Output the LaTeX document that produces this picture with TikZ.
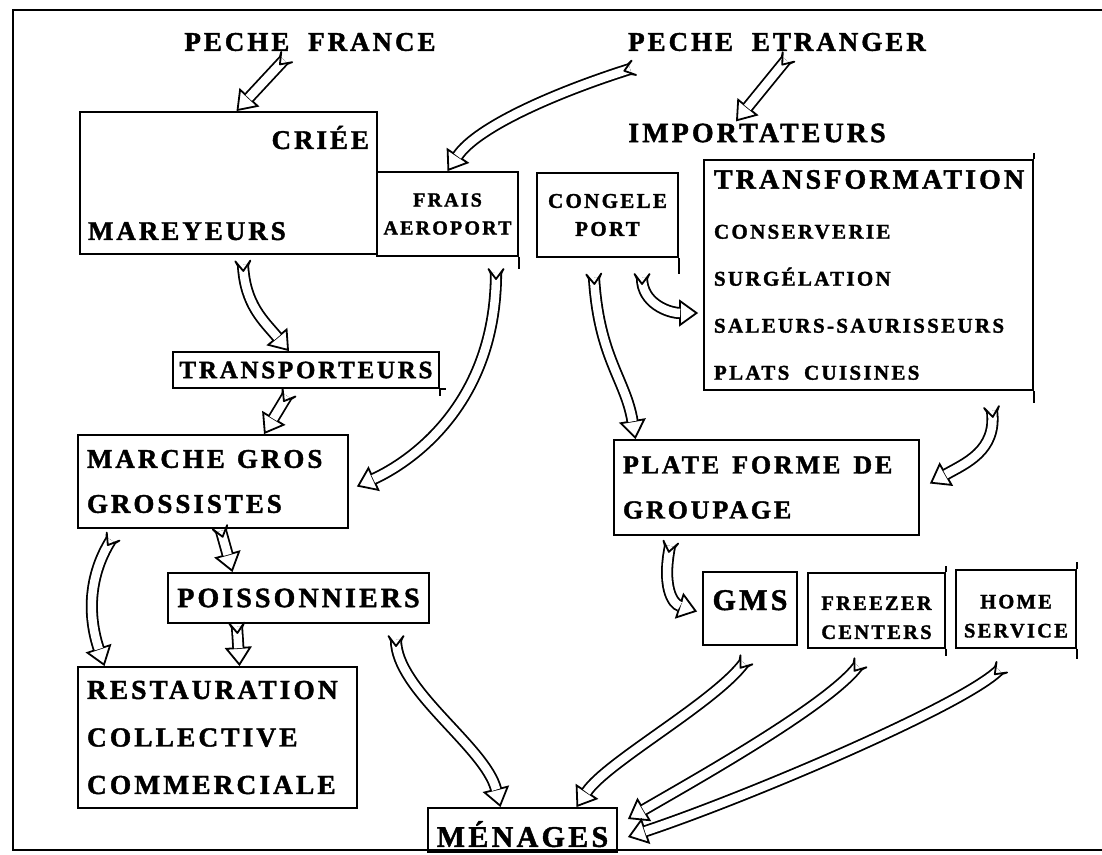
\documentclass[tikz,border=0pt]{standalone}
\usepackage{fontspec}
\setmainfont{Liberation Serif Bold}[LetterSpace=11, FakeBold=1.5]
\usetikzlibrary{arrows.meta,calc,decorations.markings}

\newcommand\fsz[2]{\fontsize{#1pt}{#2pt}\selectfont}
\newcommand\gap{\hspace{0.7em}}
% hollow flow arrow: head path first, then the double shaft, then the forked tail
\newcommand\flow[3][]{%
  \draw[flowhead,#1] #2 #3;
  \draw[flowbody,#1] #2 #3;
  \path[flowtail] #2 #3;}

\tikzset{
  boxline/.style={line width=1.8pt},
  box/.style={draw, boxline, inner sep=0pt},
  fs/.style 2 args={font=\fsz{#1}{#2}},
  lbl/.style={inner sep=0pt},
  flowhead/.style={line width=1.8pt,
    -{Triangle[open, fill=white, length=19pt, width=27pt, line width=1.8pt]}},
  flowbody/.style={line width=1.8pt, double=white, double distance=8.5pt, shorten >=18pt},
  flowtail/.style={postaction={decorate, decoration={markings,
    mark=at position 0 with {\draw[line width=1.8pt, line join=round]
      (0.5,5.15) -- (-4,7.5) -- (6,0) -- (-4,-7.5) -- (0.5,-5.15);}}}},
}

\begin{document}
\begin{tikzpicture}[x=1pt, y=-1pt]
  \useasboundingbox (0,0) rectangle (1102,854);
  \draw[line width=2.2pt] (1102,10) -- (13,10) -- (13,850) -- (1102,850);

  % sources
  \node[lbl, fs={27}{32}] (pf) at (310,42) {PECHE\gap FRANCE};
  \node[lbl, fs={27}{32}] (pe) at (777,42) {PECHE\gap ETRANGER};
  \node[lbl, fs={28}{34}] (imp) at (757,133) {IMPORTATEURS};

  % boxes
  \node[box, fs={27}{91}, minimum width=297pt, minimum height=142pt,
        text width=281pt, align=left] (criee) at (228.5,183)
        {\mbox{}\hfill CRIÉE\\MAREYEURS};
  \node[box, fs={20}{28}, minimum width=141pt, minimum height=84pt,
        align=center] (frais) at (447.5,214) {FRAIS\\AEROPORT};
  \node[box, fs={21}{28}, minimum width=141pt, minimum height=84pt,
        align=center] (congele) at (607.5,215) {CONGELE\\PORT};
  \node[box, fs={21}{47}, minimum width=329pt, minimum height=230pt,
        text width=309pt, align=left] (transf) at (868.5,275)
        {{\fsz{28}{47}TRANSFORMATION}\\[3pt]CONSERVERIE\\SURGÉLATION\\
         SALEURS-SAURISSEURS\\PLATS\gap CUISINES};
  \node[box, fs={25}{30}, minimum width=266pt, minimum height=36pt]
        (transp) at (306,370) {TRANSPORTEURS};
  \node[box, fs={27}{45}, minimum width=270pt, minimum height=93pt,
        text width=252pt, align=left] (marche) at (213,481.5)
        {MARCHE\hspace{0.45em}GROS\\GROSSISTES};
  \node[box, fs={26}{45}, minimum width=305pt, minimum height=95pt,
        text width=287pt, align=left] (plate) at (766.5,487.5)
        {PLATE\hspace{0.5em}FORME\hspace{0.5em}DE\\GROUPAGE};
  \node[box, fs={28}{35}, minimum width=261pt, minimum height=50pt]
        (poiss) at (298.5,598) {POISSONNIERS};
  \node[box, fs={27.5}{47.5}, minimum width=279pt, minimum height=141pt,
        text width=261pt, align=left] (rest) at (217.5,737.5)
        {RESTAURATION\\COLLECTIVE\\COMMERCIALE};
  \node[box, fs={30}{35}, minimum width=94pt, minimum height=73pt]
        (gms) at (750,608.5) {\rule[-17pt]{0pt}{37pt}GMS};
  \node[box, fs={20.5}{29}, minimum width=137pt, minimum height=75pt,
        align=center] (freezer) at (876.5,610.5) {\rule{0pt}{28pt}FREEZER\\CENTERS};
  \node[box, fs={20.5}{29}, minimum width=120pt, minimum height=78pt,
        align=center] (home) at (1016,609) {\rule{0pt}{28pt}HOME\\SERVICE};
  \node[box, fs={30}{36}, minimum width=189pt, minimum height=44pt]
        (men) at (522.5,830) {\rule{0pt}{34pt}MÉNAGES};

  % overshooting strokes
  \draw[boxline] (frais.south east) -- ++(0,12);
  \draw[boxline] (congele.south east) -- ++(0,16);
  \draw[boxline] (transf.north east) -- ++(0,-6) (transf.south east) -- ++(0,12);
  \draw[boxline] (transp.south east) -- ++(6,0) (transp.south east) -- ++(0,7);
  \draw[boxline] (freezer.north east) -- ++(0,-6) (freezer.south east) -- ++(0,7);
  \draw[boxline] (home.north east) -- ++(0,-7) (home.south east) -- ++(0,10);

  % tails
  \coordinate (t-pf) at (284,60);
  \coordinate (t-pe1) at (630,69);
  \coordinate (t-pe2) at (786,60);
  \coordinate (t-criee) at (243,265);
  \coordinate (t-frais) at (496,273);
  \coordinate (t-transp) at (287,396);
  \coordinate (t-marche1) at (221,531);
  \coordinate (t-marche2) at (111,540);
  \coordinate (t-poiss1) at (237,627);
  \coordinate (t-poiss2) at (396,640);
  \coordinate (t-congele1) at (594,278);
  \coordinate (t-congele2) at (642,278);
  \coordinate (t-transf) at (992,411);
  \coordinate (t-plate) at (670,546);
  \coordinate (t-gms) at (744,663);
  \coordinate (t-freezer) at (858,666);
  \coordinate (t-home) at (999,670);

  % flows
  \flow{(t-pf)}{-- ($(criee.north)+(8,0)$)}
  \flow{(t-pe1)}{.. controls +(-70,22) and +(30,-45) .. (frais.north)}
  \flow{(t-pe2)}{-- ($(imp.north)+(-21,-2)$)}
  \flow{(t-criee)}{.. controls +(2,40) and +(-25,-30) .. ($(transp.north)+(-17,0)$)}
  \flow{(t-frais)}{.. controls +(0,130) and +(55,-25) .. ($(marche.east)+(8,5)$)}
  \flow{(t-transp)}{-- ($(marche.north)+(51,0)$)}
  \flow{(t-marche1)}{-- ($(poiss.north)+(-66,0)$)}
  \flow{(t-marche2)}{.. controls +(-25,40) and +(-15,-45) .. ($(rest.north)+(-113,0)$)}
  \flow{(t-poiss1)}{-- ($(rest.north)+(22,0)$)}
  \flow{(t-poiss2)}{.. controls +(0,50) and +(-15,-60) .. ($(men.north)+(-22,0)$)}
  \flow{(t-congele1)}{.. controls +(5,80) and +(-10,-60) .. ($(plate.north)+(-131,0)$)}
  \flow{(t-congele2)}{.. controls +(0,25) and +(-30,0) .. ($(transf.west)+(-5,38)$)}
  \flow{(t-transf)}{.. controls +(5,40) and +(35,-20) .. ($(plate.east)+(10,-4)$)}
  \flow{(t-plate)}{.. controls +(-8,40) and +(-25,-8) .. ($(gms.west)+(-5,3)$)}
  \flow{(t-gms)}{.. controls +(-30,40) and +(30,-45) .. ($(men.north)+(54,0)$)}
  \flow{(t-freezer)}{.. controls +(-30,40) and +(60,-35) .. ($(men.east)+(10,-11)$)}
  \flow{(t-home)}{.. controls +(-35,35) and +(120,-40) .. ($(men.east)+(10,7)$)}
\end{tikzpicture}
\end{document}
